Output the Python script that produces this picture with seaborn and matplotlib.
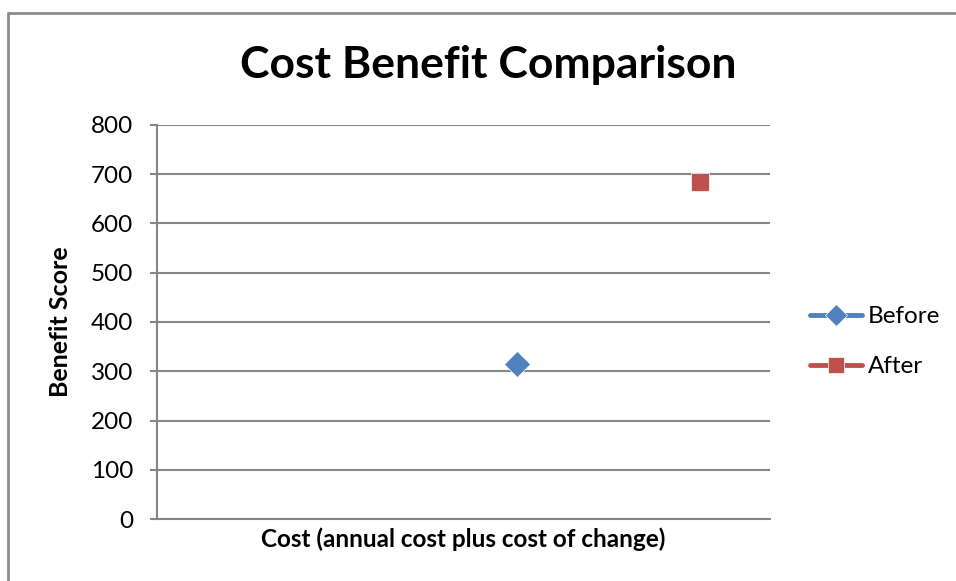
import matplotlib
matplotlib.use("Agg")
import matplotlib.pyplot as plt
import seaborn as sns
import pandas as pd
from matplotlib.lines import Line2D

series = ["Before", "After"]
cost = [11740, 17700]
benefit = [315, 685]
y_ticks = [0, 100, 200, 300, 400, 500, 600, 700, 800]

df = pd.DataFrame({"series": series, "cost": cost, "benefit": benefit})

sns.set_theme(style="white")
plt.rcParams["font.family"] = ["Lato", "DejaVu Sans"]
plt.rcParams["text.color"] = "black"
plt.rcParams["axes.labelcolor"] = "black"

fig = plt.figure(figsize=(9.56, 5.81), dpi=100)
ax = fig.add_axes([157/956, 1-519/581, (770-157)/956, (519-125)/581])

palette = {"Before": "#4F81BD", "After": "#C0504D"}
markers = {"Before": "D", "After": "s"}
sns.lineplot(data=df, x="cost", y="benefit", hue="series", style="series",
             markers=markers, dashes=False, palette=palette, ax=ax,
             markersize=13, markeredgecolor="white", markeredgewidth=0.5,
             linewidth=3.5)

ax.set_xlim(0, 20000)
ax.set_ylim(0, 800)
ax.set_yticks(y_ticks)
ax.set_xticks([])
ax.yaxis.grid(True, color="#868686", linewidth=1.5)
ax.set_axisbelow(True)
for s in ["top", "right"]:
    ax.spines[s].set_visible(False)
for s in ["left", "bottom"]:
    ax.spines[s].set_color("#868686")
    ax.spines[s].set_linewidth(1.5)
ax.tick_params(axis="y", which="both", left=True, length=5, width=1.5,
               color="#868686", labelsize=17.5, pad=12, labelcolor="black")

ax.set_xlabel("Cost (annual cost plus cost of change)", fontsize=17.5,
              fontweight="bold", labelpad=6)
ax.set_ylabel("Benefit Score", fontsize=18, fontweight="bold", labelpad=14)

fig.text(488/956, 1-65/581, "Cost Benefit Comparison", fontsize=32,
         fontweight="bold", ha="center", va="center")

handles, labels = ax.get_legend_handles_labels()
leg = ax.legend(handles=handles, labels=labels, loc="center left",
                bbox_to_anchor=(1.065, 0.45), frameon=False, fontsize=17.5,
                handlelength=2.15, handletextpad=0.25, labelspacing=1.2,
                markerscale=0.9, borderaxespad=0, borderpad=0)

# chart border (top and left only visible)
fig.add_artist(Line2D([8/956, 955/956], [1-13/581, 1-13/581],
                      transform=fig.transFigure, color="#8c8c8c", linewidth=2))
fig.add_artist(Line2D([8/956, 8/956], [0, 1-13/581],
                      transform=fig.transFigure, color="#8c8c8c", linewidth=2))

fig.savefig("out.png", dpi=100, facecolor="white")
